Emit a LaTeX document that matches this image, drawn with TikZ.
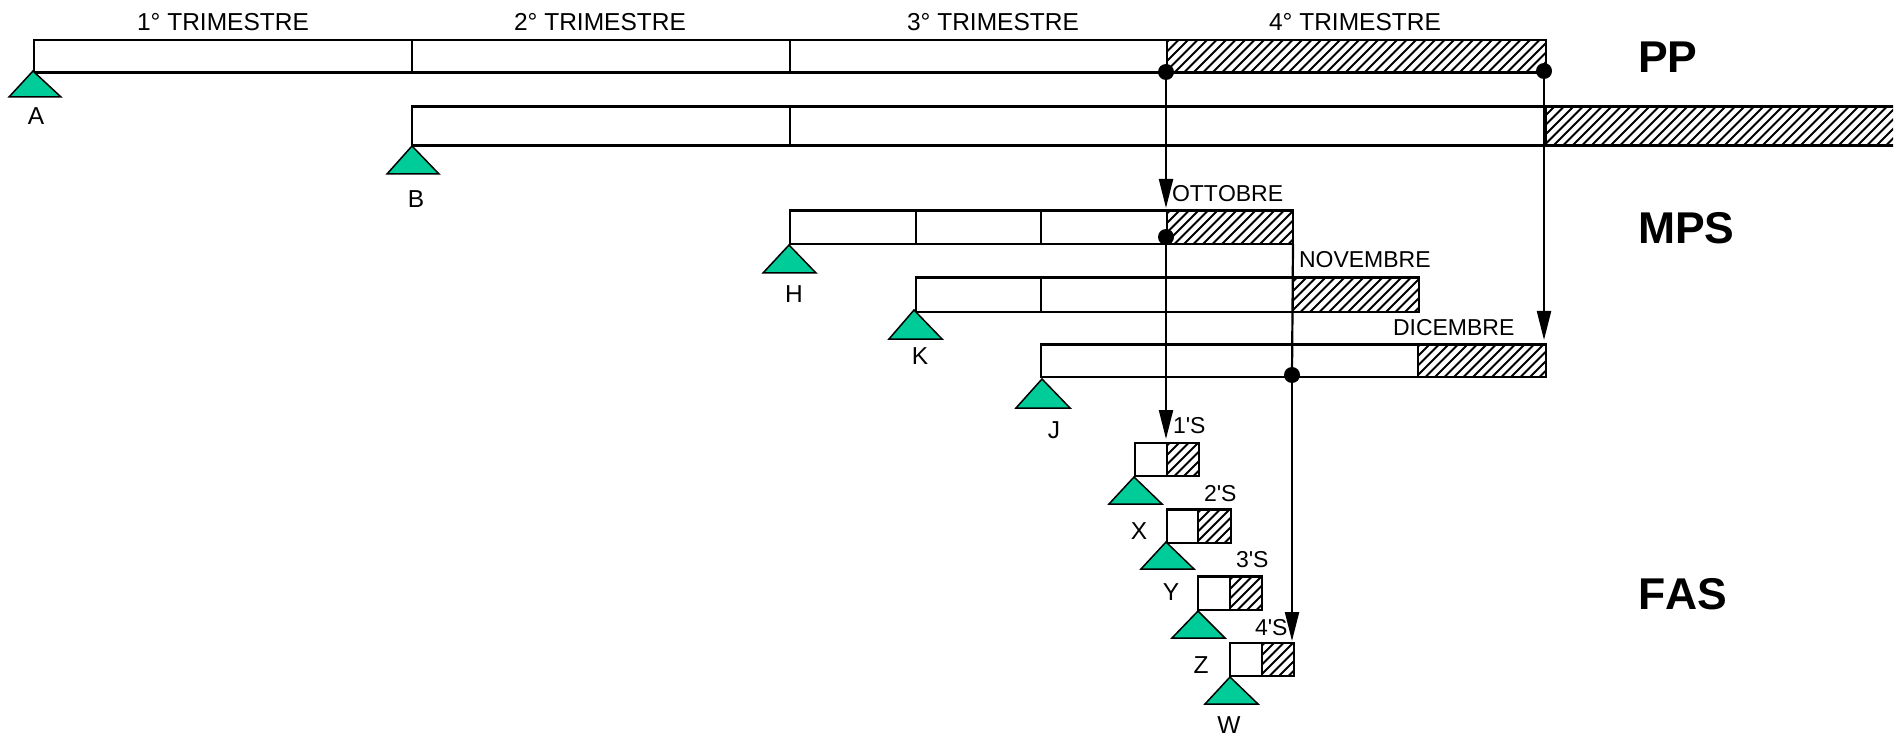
\documentclass[tikz,border=0pt]{standalone}
\usepackage{fontspec}
\setmainfont{Liberation Sans}[Ligatures=TeXOff,Kerning=Off]
\usetikzlibrary{arrows.meta}
\definecolor{tri}{HTML}{00CC99}
\newcommand{\fs}[1]{\fontsize{#1}{#1}\selectfont}
\tikzset{
  bar/.style={draw=black,line width=2.5pt,inner sep=0pt,outer sep=0pt},
  plain/.style={bar},
  hatched/.style={bar,path picture={
    \begin{scope}[line width=2pt]
    \foreach \i in {-40,-30.5,...,400}{
      \draw ([xshift=\i pt]path picture bounding box.south west) -- ++(40pt,40pt);
    }
    \end{scope}}},
  support/.style={draw=black,line width=1.5pt,fill=tri,line join=miter},
  lab/.style={inner sep=0pt,outer sep=0pt,anchor=base,font=\fs{24.5}},
  slab/.style={inner sep=0pt,outer sep=0pt,anchor=base west,font=\fs{23}},
  big/.style={inner sep=0pt,outer sep=0pt,anchor=base west,font=\bfseries\fs{44.5}},
  conn/.style={draw=black,line width=2.2pt},
  arr/.style={conn,-{Triangle[length=29pt,width=14pt]}},
  dot/.style={circle,fill=black,inner sep=0pt,outer sep=0pt,minimum size=16pt},
}
% \cell{name}{style}{x1}{y1}{x2}{y2}
\newcommand{\cell}[6]{%
  \pgfmathsetmacro{\mymx}{(#3+#5)/2}\pgfmathsetmacro{\mymy}{(#4+#6)/2}%
  \pgfmathsetmacro{\mywd}{#5-#3}\pgfmathsetmacro{\myht}{#6-#4}%
  \node[#2,minimum width=\mywd pt,minimum height=\myht pt] (#1) at (\mymx,\mymy) {};}
% \supp{name}{apex x}{apex y}{left}{right}{base}
\newcommand{\supp}[6]{%
  \draw[support] (#2,#3) coordinate (#1) -- (#5,#6) -- (#4,#6) -- cycle;}
\begin{document}
\begin{tikzpicture}[x=1pt,y=-1pt]
\useasboundingbox (0,0) rectangle (1898,735);
\begin{scope}
\clip (0,0) rectangle (1893,735);
% PP
\cell{a1}{plain}{34}{40}{412}{72.5}
\cell{a2}{plain}{412}{40}{790}{72.5}
\cell{a3}{plain}{790}{40}{1167}{72.5}
\cell{a4}{hatched}{1167}{40}{1546}{72.5}
\cell{b1}{plain}{412}{106.5}{790}{145.5}
\cell{b2}{plain}{790}{106.5}{1546}{145.5}
\cell{b3}{hatched}{1546}{106.5}{1902}{145.5}
% MPS
\cell{h1}{plain}{790}{210.5}{916}{244}
\cell{h2}{plain}{916}{210.5}{1041}{244}
\cell{h3}{plain}{1041}{210.5}{1167}{244}
\cell{h4}{hatched}{1167}{210.5}{1293}{244}
\cell{k1}{plain}{916}{277.5}{1041}{312}
\cell{k2}{plain}{1041}{277.5}{1293}{312}
\cell{k3}{hatched}{1293}{277.5}{1419}{312}
\cell{j1}{plain}{1041}{344.5}{1418}{377}
\cell{j2}{hatched}{1418}{344.5}{1546}{377}
% FAS
\cell{x1}{plain}{1135}{443}{1167}{476}
\cell{x2}{hatched}{1167}{443}{1199}{476}
\cell{y1}{plain}{1167}{509.5}{1198}{543}
\cell{y2}{hatched}{1198}{509.5}{1231}{543}
\cell{z1}{plain}{1198}{576.5}{1230}{610}
\cell{z2}{hatched}{1230}{576.5}{1262}{610}
\cell{w1}{plain}{1230}{643}{1262}{676}
\cell{w2}{hatched}{1262}{643}{1294}{676}
\end{scope}
% supports
\supp{sa}{33}{71}{9}{61}{97}
\supp{sb}{412}{146}{387}{439}{174}
\supp{sh}{789}{245}{763}{816}{273}
\supp{sk}{914}{310}{889}{942}{339}
\supp{sj}{1042}{379}{1016}{1070}{408}
\supp{sx}{1134}{477}{1109}{1162}{504}
\supp{sy}{1166}{542}{1141}{1194}{569}
\supp{sz}{1198}{611}{1172}{1225}{638}
\supp{sw}{1230}{677}{1205}{1258}{704}
% dots
\node[dot] (d1) at (1166,72) {};
\node[dot] (d2) at (1544,71) {};
\node[dot] (d3) at (1166,237) {};
\node[dot] (d4) at (1292,375) {};
% connector ends
\coordinate (t1) at (1166,208);
\coordinate (t2) at (1544,340);
\coordinate (t3) at (1166,439);
\coordinate (t4) at (1292,641);
\coordinate (n4) at (1293,244);
\draw[arr] (d1.center) -- (t1);
\draw[arr] (d2.center) -- (t2);
\draw[arr] (d3.center) -- (t3);
\draw[conn] (n4) -- (d4.center);
\draw[arr] (d4.center) -- (t4);
% titles
\node[lab] (q1) at (223,31) {1° TRIMESTRE};
\node[lab] (q2) at (600,31) {2° TRIMESTRE};
\node[lab] (q3) at (993,31) {3° TRIMESTRE};
\node[lab] (q4) at (1355,31) {4° TRIMESTRE};
\node[big] (pp) at (1638,73) {PP};
\node[big] (mps) at (1638,244) {MPS};
\node[big] (fas) at (1638,609) {FAS};
\node[slab] (m1) at (1172,202) {OTTOBRE};
\node[slab] (m2) at (1299,268) {NOVEMBRE};
\node[slab] (m3) at (1393,335) {DICEMBRE};
\node[slab] (s1) at (1173,433) {1'S};
\node[slab] (s2) at (1204,501) {2'S};
\node[slab] (s3) at (1236,567) {3'S};
\node[slab] (s4) at (1255,635) {4'S};
\node[lab] (la) at (36,125) {A};
\node[lab] (lb) at (416,208) {B};
\node[lab] (lh) at (794,303) {H};
\node[lab] (lk) at (920,364) {K};
\node[lab] (lj) at (1054,438) {J};
\node[lab] (lx) at (1139,539) {X};
\node[lab] (ly) at (1171,600) {Y};
\node[lab] (lz) at (1201,673) {Z};
\node[lab] (lw) at (1229,733) {W};
\end{tikzpicture}
\end{document}
